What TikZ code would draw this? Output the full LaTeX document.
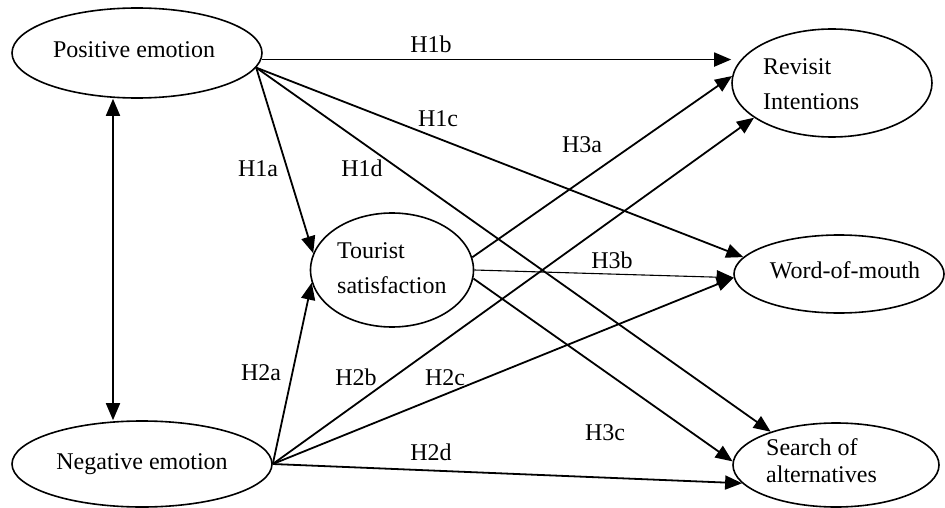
\documentclass[tikz,border=0pt]{standalone}
\usepackage{fontspec}
\setmainfont{Liberation Serif}
\usetikzlibrary{shapes.geometric,arrows.meta}
\begin{document}
\begin{tikzpicture}[x=1pt,y=-1pt,
  every node/.style={font=\fontsize{24}{35}\selectfont},
  oval/.style={ellipse,draw,line width=1.6pt,inner sep=0pt},
  txt/.style={inner sep=0pt},
  lbl/.style={inner sep=0pt,anchor=base},
  arr/.style={line width=1.8pt,-{Triangle[length=17pt,width=14pt]}},
  dbl/.style={line width=1.8pt,{Triangle[length=17pt,width=14pt]}-{Triangle[length=17pt,width=14pt]}}]
\useasboundingbox (0,0) rectangle (945,508);
% ellipses
\node[oval,minimum width=250pt,minimum height=90pt] (P) at (137,53) {};
\node[oval,minimum width=260pt,minimum height=86pt] (N) at (142,464) {};
\node[oval,minimum width=163pt,minimum height=114pt] (T) at (392,270) {};
\node[oval,minimum width=200pt,minimum height=108pt] (R) at (832,83) {};
\node[oval,minimum width=210pt,minimum height=78pt] (W) at (839,274) {};
\node[oval,minimum width=206pt,minimum height=84pt] (S) at (836,465) {};
% texts
\node[txt,anchor=base] (tP) at (134,58) {Positive emotion};
\node[txt,anchor=base] (tN) at (142,469) {Negative emotion};
\node[txt,anchor=base west] (tR) at (763,75) {\begin{tabular}[t]{@{}l@{}}Revisit\\Intentions\end{tabular}};
\node[txt,anchor=base west] (tT) at (337,258) {\begin{tabular}[t]{@{}l@{}}Tourist\\satisfaction\end{tabular}};
\node[txt,anchor=base] (tW) at (845,278) {Word-of-mouth};
\node[txt,anchor=base west,font=\fontsize{24}{27}\selectfont] (tS) at (766,455) {\begin{tabular}[t]{@{}l@{}}Search of\\alternatives\end{tabular}};
% connectors
\draw[dbl] ([xshift=-24pt]P.south) -- ([xshift=-24pt]P.south |- N.north);
\draw[arr] (P.-3) -- (R.west |- P.-3);
\draw[arr] (P.-7) -- (W.170);
\draw[arr] (P.-7) -- (S.153);
\draw[arr] (P.-7) -- (T.168);
\draw[arr] (N.east) -- (T.-171);
\draw[arr] (N.east) -- (R.-156);
\draw[arr] (N.east) -- (W.-178);
\draw[arr] (N.east) -- (S.-169);
\draw[arr] (T.9) -- (R.176);
\draw[arr,line width=1.1pt] (T.east) -- (W.-178);
\draw[arr] (T.-6) -- (S.178);
% labels
\node[lbl] (l1b) at (431,53) {H1b};
\node[lbl] (l1c) at (438,127) {H1c};
\node[lbl] (l3a) at (582,153) {H3a};
\node[lbl] (l1a) at (258,176) {H1a};
\node[lbl] (l1d) at (362,176) {H1d};
\node[lbl] (l3b) at (612,268) {H3b};
\node[lbl] (l2a) at (261,380) {H2a};
\node[lbl] (l2b) at (356,385) {H2b};
\node[lbl] (l2c) at (445,385) {H2c};
\node[lbl] (l3c) at (605,440) {H3c};
\node[lbl] (l2d) at (431,460) {H2d};
\end{tikzpicture}
\end{document}
